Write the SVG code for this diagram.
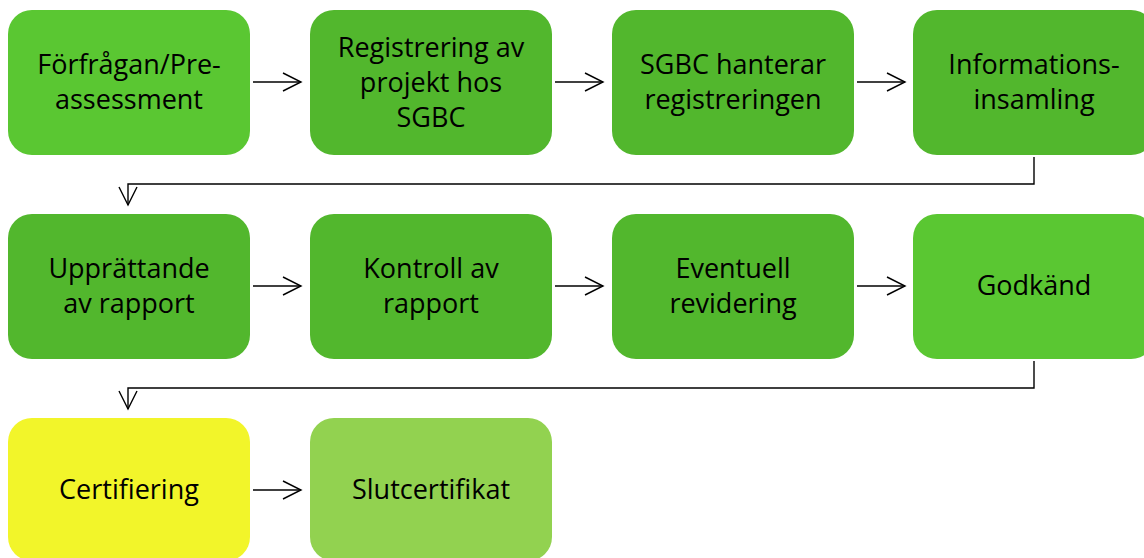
<svg xmlns="http://www.w3.org/2000/svg" width="1144" height="558" viewBox="0 0 1144 558">
  <style>
    .box { stroke: none; }
    .g1 { fill: #5AC732; }
    .g2 { fill: #52B72D; }
    .yel { fill: #F2F52A; }
    .lg { fill: #92D250; }
    .lbl { font-family: "Open Sans", "Liberation Sans", sans-serif; font-size: 27px; fill: #000; text-anchor: middle; }
    .conn { fill: none; stroke: #000; stroke-width: 1.4; }
  </style>
  <defs>
    <marker id="open" viewBox="0 0 18 20" refX="18" refY="10" markerWidth="18" markerHeight="20" markerUnits="userSpaceOnUse" orient="auto" overflow="visible">
      <path d="M0,1 L18,10 L0,19" fill="none" stroke="#000" stroke-width="1.4"/>
    </marker>
  </defs>

  <rect width="1144" height="558" fill="#fff"/>

  <!-- Row 1 -->
  <g id="n1">
    <rect class="box g1" x="8" y="10" width="242" height="145" rx="24"/>
    <text class="lbl" x="129" y="74">Förfrågan/Pre-</text>
    <text class="lbl" x="129" y="109">assessment</text>
  </g>
  <g id="n2">
    <rect class="box g2" x="310" y="10" width="242" height="145" rx="24"/>
    <text class="lbl" x="431" y="57">Registrering av</text>
    <text class="lbl" x="431" y="92">projekt hos</text>
    <text class="lbl" x="431" y="127">SGBC</text>
  </g>
  <g id="n3">
    <rect class="box g2" x="612" y="10" width="242" height="145" rx="24"/>
    <text class="lbl" x="733" y="74">SGBC hanterar</text>
    <text class="lbl" x="733" y="109">registreringen</text>
  </g>
  <g id="n4">
    <rect class="box g2" x="913" y="10" width="242" height="145" rx="24"/>
    <text class="lbl" x="1034" y="74">Informations-</text>
    <text class="lbl" x="1034" y="109">insamling</text>
  </g>

  <!-- Row 2 -->
  <g id="n5">
    <rect class="box g2" x="8" y="214" width="242" height="145" rx="24"/>
    <text class="lbl" x="129" y="278">Upprättande</text>
    <text class="lbl" x="129" y="313">av rapport</text>
  </g>
  <g id="n6">
    <rect class="box g2" x="310" y="214" width="242" height="145" rx="24"/>
    <text class="lbl" x="431" y="278">Kontroll av</text>
    <text class="lbl" x="431" y="313">rapport</text>
  </g>
  <g id="n7">
    <rect class="box g2" x="612" y="214" width="242" height="145" rx="24"/>
    <text class="lbl" x="733" y="278">Eventuell</text>
    <text class="lbl" x="733" y="313">revidering</text>
  </g>
  <g id="n8">
    <rect class="box g1" x="913" y="214" width="242" height="145" rx="24"/>
    <text class="lbl" x="1034" y="295">Godkänd</text>
  </g>

  <!-- Row 3 -->
  <g id="n9">
    <rect class="box yel" x="8" y="418" width="242" height="143" rx="24"/>
    <text class="lbl" x="129" y="499">Certifiering</text>
  </g>
  <g id="n10">
    <rect class="box lg" x="310" y="418" width="242" height="143" rx="24"/>
    <text class="lbl" x="431" y="499">Slutcertifikat</text>
  </g>

  <!-- Connectors -->
  <g id="connectors">
    <path class="conn" d="M253,82 H301" marker-end="url(#open)"/>
    <path class="conn" d="M555,82 H603" marker-end="url(#open)"/>
    <path class="conn" d="M857,82 H905" marker-end="url(#open)"/>
    <path class="conn" d="M1034,157 V184 H128 V205" marker-end="url(#open)"/>
    <path class="conn" d="M253,286 H301" marker-end="url(#open)"/>
    <path class="conn" d="M555,286 H603" marker-end="url(#open)"/>
    <path class="conn" d="M857,286 H905" marker-end="url(#open)"/>
    <path class="conn" d="M1034,361 V388 H128 V409" marker-end="url(#open)"/>
    <path class="conn" d="M253,490 H301" marker-end="url(#open)"/>
  </g>
</svg>
